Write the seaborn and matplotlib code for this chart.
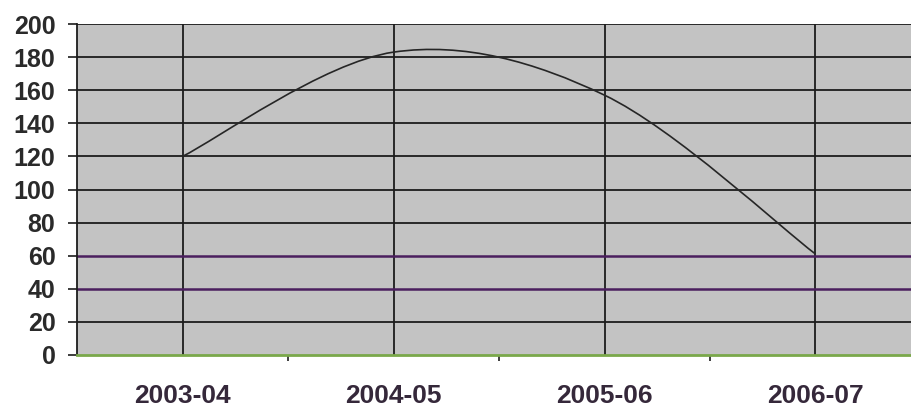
import matplotlib
matplotlib.use('Agg')
import matplotlib.pyplot as plt
from matplotlib.path import Path
from matplotlib.patches import PathPatch
import seaborn as sns

# values
seasons = ['2003-04', '2004-05', '2005-06', '2006-07']
values = [120, 183, 157, 61]
y_ticks = [0, 20, 40, 60, 80, 100, 120, 140, 160, 180, 200]

sns.set_style('white')
plt.rcParams['font.family'] = ['Liberation Sans', 'DejaVu Sans']

fig = plt.figure(figsize=(9.11, 4.07), dpi=100)
# plot area runs past the right edge of the image, as in the scan
ax = fig.add_axes([77 / 911, 52 / 407, 844 / 911, 331 / 407])
ax.set_facecolor('#c3c3c3')

# smoothed line through the points (like Excel's "smoothed line")
xs = list(range(len(values)))
pts = list(zip(xs, values))
verts = [pts[0]]
codes = [Path.MOVETO]
for i in range(len(pts) - 1):
    p_prev = pts[max(i - 1, 0)]
    p0, p1 = pts[i], pts[i + 1]
    p_next = pts[min(i + 2, len(pts) - 1)]
    c1 = (p0[0] + (p1[0] - p_prev[0]) / 6, p0[1] + (p1[1] - p_prev[1]) / 6)
    c2 = (p1[0] - (p_next[0] - p0[0]) / 6, p1[1] - (p_next[1] - p0[1]) / 6)
    verts += [c1, c2, p1]
    codes += [Path.CURVE4] * 3
ax.add_patch(PathPatch(Path(verts, codes), facecolor='none', edgecolor='#262626', lw=1.2, zorder=3))

ax.set_xlim(-0.5, len(seasons) - 0.5)
ax.set_ylim(0, 200)

ax.set_yticks(y_ticks)
ax.set_xticks(xs, seasons)
ax.set_xticks([0.5, 1.5, 2.5], minor=True)

ax.grid(True, which='major', axis='both', color='#1c1c1c', lw=1.3)
for val, gl in zip(y_ticks, ax.get_ygridlines()):
    if val in (40, 60):
        gl.set_color('#4b1f5e')
        gl.set_linewidth(1.8)
    if val == 0:
        gl.set_visible(False)

ax.tick_params(axis='y', left=True, direction='out', length=6.5, width=1.2,
               color='#1c1c1c', pad=9, labelsize=18, labelcolor='#2a2a2a')
ax.tick_params(axis='x', which='major', bottom=True, length=0, pad=21,
               labelsize=19, labelcolor='#35283a')
ax.tick_params(axis='x', which='minor', bottom=True, direction='out', length=4.5,
               width=1.2, color='#1c1c1c')
for lab in ax.get_xticklabels() + ax.get_yticklabels():
    lab.set_fontweight('bold')

for side in ('top', 'right'):
    ax.spines[side].set_visible(False)
ax.spines['left'].set_color('#1c1c1c')
ax.spines['left'].set_linewidth(1.3)
ax.spines['bottom'].set_color('#7aa84a')
ax.spines['bottom'].set_linewidth(2)

fig.savefig('out.png', dpi=100)
